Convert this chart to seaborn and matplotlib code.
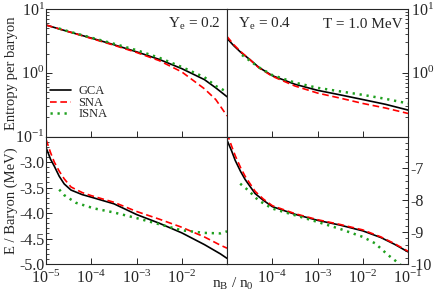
import numpy as np
import matplotlib
matplotlib.use("Agg")
import matplotlib.pyplot as plt
import matplotlib.ticker as mticker
import seaborn as sns

# log10(n_B / n_0) grids and values
# --- Y_e = 0.2, entropy per baryon
s02_grid = [-5, -4.5, -4, -3.5, -3, -2.5, -2, -1.5, -1.25, -1]
s02_gca = [5.6, 4.4, 3.5, 2.75, 2.13, 1.62, 1.16, 0.78, 0.58, 0.42]
s02_sna = [5.6, 4.4, 3.45, 2.7, 2.08, 1.55, 1.03, 0.56, 0.38, 0.21]
s02_isna_grid = [-4.72, -4.5, -4, -3.5, -3, -2.5, -2, -1.5, -1.25, -1]
s02_isna = [4.95, 4.45, 3.55, 2.85, 2.26, 1.72, 1.23, 0.85, 0.62, 0.50]

# --- Y_e = 0.4, entropy per baryon
s04_grid = [-5, -4.85, -4.7, -4.5, -4.3, -4, -3.5, -3, -2.5, -2, -1.5, -1]
s04_gca = [3.45, 2.65, 2.1, 1.62, 1.22, 0.90, 0.66, 0.53, 0.45, 0.38, 0.32, 0.26]
s04_sna = [3.7, 2.75, 2.15, 1.62, 1.2, 0.88, 0.62, 0.48, 0.40, 0.33, 0.28, 0.23]
s04_isna_grid = [-4.67, -4.5, -4.3, -4, -3.5, -3, -2.5, -2, -1.5, -1]
s04_isna = [1.9, 1.55, 1.22, 0.92, 0.70, 0.58, 0.51, 0.45, 0.39, 0.33]

# --- Y_e = 0.2, E / baryon (MeV)
e02_grid = [-5, -4.9, -4.82, -4.71, -4.6, -4.45, -4.2, -4, -3.5, -3, -2.5, -2, -1.5, -1.15, -1]
e02_gca = [-2.72, -2.95, -3.08, -3.28, -3.43, -3.55, -3.64, -3.69, -3.82, -4.03, -4.2, -4.39, -4.62, -4.8, -4.89]
e02_sna = [-2.56, -2.82, -3.0, -3.18, -3.33, -3.49, -3.6, -3.66, -3.79, -3.97, -4.12, -4.28, -4.47, -4.63, -4.69]
e02_isna_grid = [-4.71, -4.6, -4.34, -3.94, -3.5, -3, -2.5, -2, -1.5, -1.15, -1]
e02_isna = [-3.54, -3.65, -3.8, -3.91, -3.99, -4.1, -4.22, -4.34, -4.39, -4.40, -4.36]

# --- Y_e = 0.4, E / baryon (MeV)
e04_grid = [-5, -4.9, -4.82, -4.7, -4.6, -4.38, -4.2, -4, -3.5, -3, -2.5, -2, -1.6, -1.3, -1]
e04_gca = [-6.12, -6.45, -6.75, -7.1, -7.35, -7.79, -8.0, -8.2, -8.44, -8.63, -8.78, -8.96, -9.17, -9.38, -9.62]
e04_sna = [-5.9, -6.3, -6.6, -6.98, -7.25, -7.72, -7.96, -8.17, -8.42, -8.61, -8.76, -8.93, -9.15, -9.36, -9.6]
e04_isna_grid = [-4.71, -4.53, -4.31, -4, -3.5, -3, -2.5, -2, -1.73, -1.44, -1.25, -1.1]
e04_isna = [-7.48, -7.69, -8.0, -8.26, -8.47, -8.68, -8.9, -9.15, -9.35, -9.72, -9.93, -10.1]

series_names = ["GCA", "SNA", "ISNA"]

sns.set_style("ticks")
plt.rcParams["font.family"] = ["Liberation Serif", "DejaVu Serif"]
plt.rcParams["mathtext.fontset"] = "custom"
plt.rcParams["mathtext.rm"] = "Liberation Serif"
plt.rcParams["mathtext.it"] = "Liberation Serif:italic"
plt.rcParams["axes.unicode_minus"] = False
plt.rcParams["axes.linewidth"] = 0.8

styles = {
    "GCA": dict(color="black", linestyle="-", lw=1.2),
    "SNA": dict(color="#ff0000", linestyle=(0, (4, 2.2)), lw=1.2),
    "ISNA": dict(color="#1fa01f", linestyle=(0, (0.9, 1.9)), lw=1.8),
}

fig, axes = plt.subplots(2, 2, figsize=(4.35, 3.0), dpi=100)
fig.subplots_adjust(left=0.106, right=0.938, top=0.97, bottom=0.12, hspace=0, wspace=0)

panels = [
    (axes[0, 0], s02_grid, s02_gca, s02_sna, s02_isna_grid, s02_isna),
    (axes[0, 1], s04_grid, s04_gca, s04_sna, s04_isna_grid, s04_isna),
    (axes[1, 0], e02_grid, e02_gca, e02_sna, e02_isna_grid, e02_isna),
    (axes[1, 1], e04_grid, e04_gca, e04_sna, e04_isna_grid, e04_isna),
]

for ax, grid, gca, sna, igrid, isna in panels:
    n = 10.0 ** np.array(grid)
    ni = 10.0 ** np.array(igrid)
    for name, xs, ys in [("GCA", n, gca), ("SNA", n, sna), ("ISNA", ni, isna)]:
        sns.lineplot(x=xs, y=ys, ax=ax, estimator=None, sort=False,
                     label=name if ax is axes[0, 0] else None, **styles[name])
    ax.set_xscale("log")
    ax.set_xlim(1e-5, 1e-1)
    ax.set_xlabel("")
    ax.set_ylabel("")

# y scales
for ax in axes[0]:
    ax.set_yscale("log")
    ax.set_ylim(0.1, 10)
    ax.yaxis.set_minor_locator(mticker.LogLocator(base=10, subs=np.arange(2, 10)))
    ax.yaxis.set_minor_formatter(mticker.NullFormatter())
axes[0, 0].yaxis.set_major_locator(mticker.FixedLocator([0.1, 1, 10]))
axes[0, 1].yaxis.set_major_locator(mticker.FixedLocator([1, 10]))
for ax in axes[0]:
    ax.yaxis.set_major_formatter(mticker.LogFormatterSciNotation())

axes[1, 0].set_ylim(-5.0, -2.5)
axes[1, 0].yaxis.set_major_locator(mticker.FixedLocator([-5.0, -4.5, -4.0, -3.5, -3.0]))
axes[1, 0].yaxis.set_major_formatter(mticker.FormatStrFormatter("%.1f"))
axes[1, 0].yaxis.set_minor_locator(mticker.MultipleLocator(0.1))
axes[1, 1].set_ylim(-10, -6)
axes[1, 1].yaxis.set_major_locator(mticker.FixedLocator([-10, -9, -8, -7]))
axes[1, 1].yaxis.set_major_formatter(mticker.FormatStrFormatter("%d"))
axes[1, 1].yaxis.set_minor_locator(mticker.MultipleLocator(0.2))

# x ticks
for ax in axes[:, 0]:
    ax.xaxis.set_major_locator(mticker.FixedLocator([1e-5, 1e-4, 1e-3, 1e-2]))
for ax in axes[:, 1]:
    ax.xaxis.set_major_locator(mticker.FixedLocator([1e-4, 1e-3, 1e-2, 1e-1]))
for ax in axes.flat:
    ax.xaxis.set_minor_locator(mticker.LogLocator(base=10, subs=np.arange(2, 10)))
    ax.xaxis.set_minor_formatter(mticker.NullFormatter())
    ax.xaxis.set_major_formatter(mticker.LogFormatterSciNotation())
    ax.tick_params(which="major", direction="in", length=4.5, width=0.7, labelsize=11.5, pad=2)
    ax.tick_params(which="minor", direction="in", length=2.3, width=0.6)
    ax.tick_params(axis="x", pad=4)
    for sp in ax.spines.values():
        sp.set_linewidth(0.8)

for ax in axes[:, 0]:
    ax.tick_params(which="both", left=True, right=False, top=False, bottom=True)
    ax.tick_params(axis="y", pad=1)
for ax in axes[:, 1]:
    ax.tick_params(which="both", left=False, right=True, top=False, bottom=True,
                   labelleft=False, labelright=True)
for ax in axes[0]:
    ax.tick_params(labelbottom=False)

# axis labels
axes[0, 0].set_ylabel("Entropy per baryon", fontsize=10.5)
axes[1, 0].set_ylabel("E / Baryon (MeV)", fontsize=10.5)
for ax in axes[:, 0]:
    ax.yaxis.set_label_coords(-0.155, 0.5)
fig.text(233 / 435, 1 - 288 / 300, r"n$_\mathrm{B}$ / n$_0$", fontsize=11,
         ha="center", va="baseline")

# annotations
axes[0, 0].text(0.674, 0.85, r"Y$_\mathrm{e}$ = 0.2", transform=axes[0, 0].transAxes,
                fontsize=11, va="baseline", ha="left")
axes[0, 1].text(0.062, 0.85, r"Y$_\mathrm{e}$ = 0.4", transform=axes[0, 1].transAxes,
                fontsize=11, va="baseline", ha="left")
axes[0, 1].text(0.972, 0.85, "T = 1.0 MeV", transform=axes[0, 1].transAxes,
                fontsize=11, va="baseline", ha="right")

# legend
for ax in axes.flat:
    if ax.get_legend() is not None:
        ax.get_legend().remove()
axes[0, 0].legend(loc="upper left", bbox_to_anchor=(0.02, 0.40), frameon=False,
                  fontsize=9, labelspacing=-0.05, handlelength=1.7, handletextpad=0.6,
                  borderpad=0, borderaxespad=0)

fig.savefig("out.png", dpi=100)
